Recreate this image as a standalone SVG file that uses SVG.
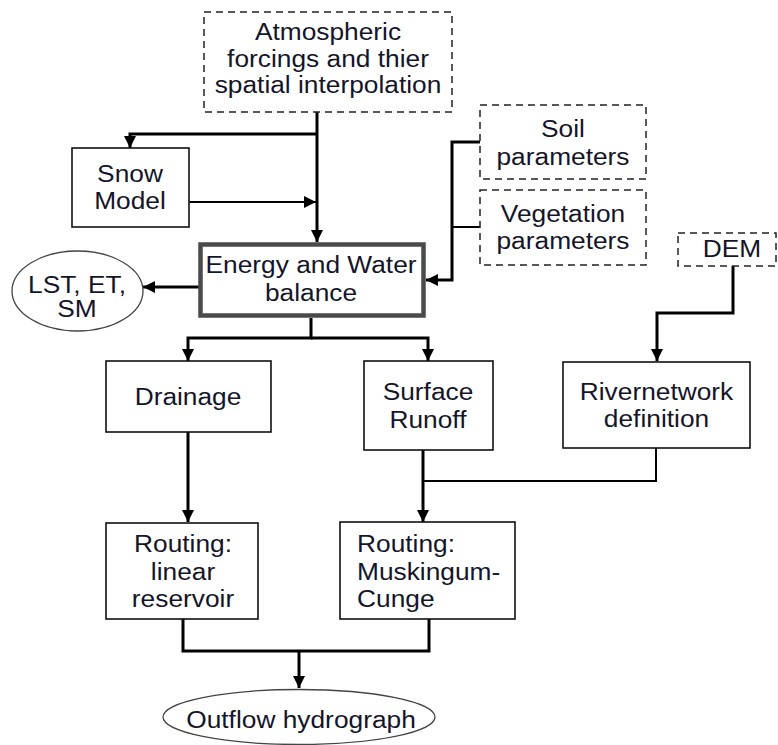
<svg xmlns="http://www.w3.org/2000/svg" width="778" height="745" viewBox="0 0 778 745">
<style>
.t{font-family:"Liberation Sans",Arial,sans-serif;font-size:23.5px;fill:#15152a;text-anchor:middle}
.ts{text-anchor:start}
.box{fill:#fff;stroke:#111;stroke-width:1.6}
.dash{fill:#fff;stroke:#222;stroke-width:1.5;stroke-dasharray:7 5}
.ell{fill:#fff;stroke:#444;stroke-width:1.3}
.c{fill:none;stroke:#000;stroke-width:3}
.c2{fill:none;stroke:#000;stroke-width:2}
</style>
<defs>
<marker id="ar" markerUnits="userSpaceOnUse" markerWidth="12" markerHeight="12" viewBox="0 0 10 10" refX="10" refY="5" orient="auto">
<path d="M0,0 L10,5 L0,10 z" fill="#000"/>
</marker>
</defs>
<g id="connectors">
<path class="c" d="M317,112 V242" marker-end="url(#ar)"/>
<path class="c" d="M317,134 H130 V148" marker-end="url(#ar)"/>
<path class="c2" d="M189,202 H316" marker-end="url(#ar)"/>
<path class="c" d="M199,287 H143" marker-end="url(#ar)"/>
<path class="c" d="M480,142 H452 V280 H426" marker-end="url(#ar)"/>
<path class="c2" d="M480,227 H452"/>
<path class="c" d="M733,266 V313 H657 V361" marker-end="url(#ar)"/>
<path class="c" d="M311,318 V338 H188 V361" marker-end="url(#ar)"/>
<path class="c" d="M311,338 H428 V361" marker-end="url(#ar)"/>
<path class="c" d="M188,432 V522" marker-end="url(#ar)"/>
<path class="c" d="M423,450 V522" marker-end="url(#ar)"/>
<path class="c2" d="M656,448 V481 H423"/>
<path class="c" d="M183,619 V651 H429 V619"/>
<path class="c" d="M299,651 V688" marker-end="url(#ar)"/>
</g>
<g id="atmos">
<rect class="dash" x="204" y="12" width="248" height="100"/>
<text class="t" transform="matrix(1.12 0 0 1 328 0)"><tspan x="0" y="40">Atmospheric</tspan><tspan x="0" y="67">forcings and thier</tspan><tspan x="0" y="93">spatial interpolation</tspan></text>
</g>
<g id="snow">
<rect class="box" x="72" y="148" width="117" height="79"/>
<text class="t" transform="matrix(1.12 0 0 1 130 0)"><tspan x="0" y="182">Snow</tspan><tspan x="0" y="209">Model</tspan></text>
</g>
<g id="energy">
<rect x="200.5" y="244.5" width="223" height="71" fill="#fff" stroke="#4a4a4a" stroke-width="4.5"/>
<text class="t" transform="matrix(1.12 0 0 1 311 0)"><tspan x="0" y="273">Energy and Water</tspan><tspan x="0" y="301">balance</tspan></text>
</g>
<g id="lst">
<ellipse class="ell" cx="77.5" cy="291" rx="65.5" ry="40"/>
<text class="t" transform="matrix(1.12 0 0 1 77 0)"><tspan x="0" y="293">LST, ET,</tspan><tspan x="0" y="317">SM</tspan></text>
</g>
<g id="soil">
<rect class="dash" x="480" y="105" width="166" height="74"/>
<text class="t" transform="matrix(1.12 0 0 1 563 0)"><tspan x="0" y="137">Soil</tspan><tspan x="0" y="165">parameters</tspan></text>
</g>
<g id="vegetation">
<rect class="dash" x="480" y="190" width="166" height="75"/>
<text class="t" transform="matrix(1.12 0 0 1 563 0)"><tspan x="0" y="222">Vegetation</tspan><tspan x="0" y="249">parameters</tspan></text>
</g>
<g id="dem">
<rect class="dash" x="678" y="233" width="98" height="33"/>
<text class="t" transform="matrix(1.12 0 0 1 732 0)"><tspan x="0" y="257">DEM</tspan></text>
</g>
<g id="drainage">
<rect class="box" x="106" y="361" width="165" height="71"/>
<text class="t" transform="matrix(1.12 0 0 1 188 0)"><tspan x="0" y="405">Drainage</tspan></text>
</g>
<g id="surface">
<rect class="box" x="364" y="361" width="129" height="89"/>
<text class="t" transform="matrix(1.12 0 0 1 428 0)"><tspan x="0" y="400">Surface</tspan><tspan x="0" y="428">Runoff</tspan></text>
</g>
<g id="river">
<rect class="box" x="563" y="362" width="187" height="86"/>
<text class="t" transform="matrix(1.12 0 0 1 656.5 0)"><tspan x="0" y="400">Rivernetwork</tspan><tspan x="0" y="427">definition</tspan></text>
</g>
<g id="linear">
<rect class="box" x="106" y="523" width="152" height="96"/>
<text class="t" transform="matrix(1.12 0 0 1 183 0)"><tspan x="0" y="552">Routing:</tspan><tspan x="0" y="580">linear</tspan><tspan x="0" y="607">reservoir</tspan></text>
</g>
<g id="muskingum">
<rect class="box" x="340" y="522" width="175" height="97"/>
<text class="t ts" transform="matrix(1.12 0 0 1 357 0)"><tspan x="0" y="552">Routing:</tspan><tspan x="0" y="580">Muskingum-</tspan><tspan x="0" y="607">Cunge</tspan></text>
</g>
<g id="outflow">
<ellipse class="ell" cx="299" cy="717" rx="136" ry="27.5"/>
<text class="t" transform="matrix(1.12 0 0 1 301 0)"><tspan x="0" y="728">Outflow hydrograph</tspan></text>
</g>
</svg>
